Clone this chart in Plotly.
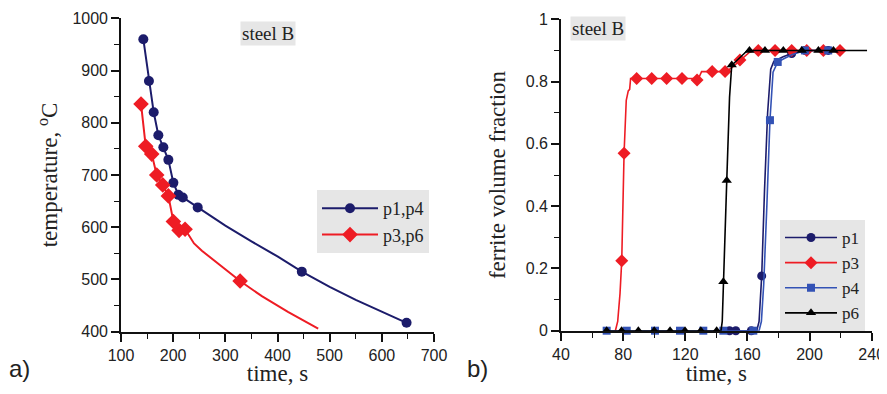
import plotly.graph_objects as go

# ---------------- panel a) temperature vs time ----------------
a_p14_t = [142.8, 153.6, 162.7, 171.6, 181.2, 190.8, 200.4, 210.0, 218.4, 247.0, 446.6, 647.4]
a_p14_T = [960, 880, 820, 776, 753, 729, 685, 662, 657, 638, 515, 417]
a_p14_curve_t = [142.8, 153.6, 162.7, 171.6, 181.2, 190.8, 200.4, 210.0, 218.4, 247.0, 300, 350, 400, 446.6, 500, 550, 600, 647.4]
a_p14_curve_T = [960, 880, 820, 776, 753, 729, 685, 662, 657, 638, 603, 573, 544, 515, 486, 461, 439, 417]

a_p36_t = [138.4, 147.4, 158.9, 168.5, 180.0, 190.8, 200.4, 211.3, 222.8, 328.3]
a_p36_T = [836, 755, 740, 700, 681, 660, 611, 594, 596, 497]
a_p36_curve_t = [138.4, 147.4, 158.9, 168.5, 180.0, 190.8, 200.4, 211.3, 222.8, 230, 240, 255, 280, 300, 328.3, 370, 420, 478]
a_p36_curve_T = [836, 755, 740, 700, 681, 660, 611, 594, 596, 584, 569, 555, 535, 520, 497, 468, 438, 406]

# ---------------- panel b) ferrite fraction vs time ----------------
b_p1_t = [148.5, 152.5, 162.5, 169.2, 188.5, 197.0, 212.0]
b_p1_f = [0, 0, 0, 0.176, 0.89, 0.90, 0.90]
b_p1_curve_t = [148.5, 166.0, 167.5, 169.2, 171.0, 173.0, 175.0, 177.0, 183.0, 188.5, 197.0, 213.0]
b_p1_curve_f = [0, 0, 0.03, 0.176, 0.45, 0.70, 0.84, 0.865, 0.88, 0.89, 0.90, 0.90]

b_p3_t = [79.1, 80.6, 88.7, 98.4, 108.0, 117.9, 127.6, 137.3, 145.6, 155.2, 167.0, 177.8, 188.5, 198.2, 208.9, 219.6]
b_p3_f = [0.225, 0.57, 0.81, 0.81, 0.81, 0.81, 0.805, 0.832, 0.832, 0.869, 0.90, 0.90, 0.90, 0.90, 0.90, 0.90]
b_p3_curve_t = [75.0, 76.5, 78.0, 79.1, 80.6, 82.0, 83.3, 84.2, 84.8, 88.7, 128.5, 130.5, 146.0, 150.0, 155.2, 161.0, 165.0, 219.6]
b_p3_curve_f = [0, 0.03, 0.12, 0.225, 0.57, 0.74, 0.77, 0.775, 0.81, 0.81, 0.81, 0.832, 0.832, 0.845, 0.869, 0.893, 0.90, 0.90]

b_p4_t = [69.4, 82.3, 100.5, 116.6, 131.6, 144.5, 163.8, 174.5, 179.5, 197.0, 212.0]
b_p4_f = [0, 0, 0, 0, 0, 0, 0, 0.676, 0.863, 0.90, 0.90]
b_p4_curve_t = [69.4, 167.5, 169.0, 170.5, 172.5, 174.5, 176.5, 179.5, 184.0, 189.0, 197.0, 216.0]
b_p4_curve_f = [0, 0, 0.03, 0.15, 0.40, 0.676, 0.83, 0.863, 0.875, 0.887, 0.90, 0.90]

b_p6_t = [69.4, 79.0, 89.8, 100.0, 110.2, 119.8, 130.0, 140.2, 144.5, 146.7, 149.9, 161.3, 171.3, 183.1, 195.0, 205.7, 215.4]
b_p6_f = [0, 0, 0, 0, 0, 0, 0, 0, 0.157, 0.482, 0.853, 0.90, 0.90, 0.90, 0.90, 0.90, 0.90]
b_p6_curve_t = [69.4, 143.0, 143.8, 144.5, 146.7, 148.5, 149.9, 152.0, 156.0, 160.0, 237.0]
b_p6_curve_f = [0, 0, 0.03, 0.157, 0.482, 0.75, 0.853, 0.862, 0.88, 0.90, 0.90]

NAVY = "#1c1c6b"
RED = "#ee1c24"
BLUE = "#3352b5"
BLACK = "#000000"

# the page body has an 8px margin; size the figure so the page never overflows
OFF = 8
W, H = 887 - OFF, 394 - 2 * OFF

def X(p):
    return (p - OFF) / W

def Y(p):
    return 1 - (p - OFF) / H

fig = go.Figure()

def add_series(t, v, ct, cv, name, color, symbol, size, xa, ya, legend, lw):
    fig.add_trace(go.Scatter(x=ct, y=cv, mode="lines", line=dict(color=color, width=lw),
                             xaxis=xa, yaxis=ya, showlegend=False, hoverinfo="skip",
                             cliponaxis=False))
    fig.add_trace(go.Scatter(x=t, y=v, mode="markers", name=name, showlegend=False,
                             marker=dict(color=color, symbol=symbol, size=size),
                             xaxis=xa, yaxis=ya, cliponaxis=False))
    fig.add_trace(go.Scatter(x=[None], y=[None], mode="lines+markers", name=name,
                             line=dict(color=color, width=lw),
                             marker=dict(color=color, symbol=symbol, size=size),
                             xaxis=xa, yaxis=ya, legend=legend))

add_series(a_p14_t, a_p14_T, a_p14_curve_t, a_p14_curve_T, "p1,p4", NAVY, "circle", 10, "x", "y", "legend", 2)
add_series(a_p36_t, a_p36_T, a_p36_curve_t, a_p36_curve_T, "p3,p6", RED, "diamond", 12, "x", "y", "legend", 2)

add_series(b_p1_t, b_p1_f, b_p1_curve_t, b_p1_curve_f, "p1", NAVY, "circle", 9, "x2", "y2", "legend2", 1.6)
add_series(b_p3_t, b_p3_f, b_p3_curve_t, b_p3_curve_f, "p3", RED, "diamond", 10, "x2", "y2", "legend2", 1.6)
add_series(b_p4_t, b_p4_f, b_p4_curve_t, b_p4_curve_f, "p4", BLUE, "square", 8, "x2", "y2", "legend2", 1.6)
add_series(b_p6_t, b_p6_f, b_p6_curve_t, b_p6_curve_f, "p6", BLACK, "triangle-up", 9, "x2", "y2", "legend2", 1.6)

SERIF = "Liberation Serif"
SANS = "Liberation Sans"
TICKFONT = dict(family=SANS, size=16, color="#222")
TITLEFONT = dict(family=SERIF, size=23, color="#222")
MINOR = dict(ticklen=5, tickwidth=1.2, tickcolor="#111", ticks="outside")

def axis_common(**kw):
    d = dict(showgrid=False, zeroline=False, showline=True, linecolor="#111", linewidth=1.6,
             ticks="outside", ticklen=8, tickwidth=1.5, tickcolor="#111",
             tickfont=TICKFONT, mirror=False, automargin=False)
    d.update(kw)
    return d

fig.update_layout(
    width=W, height=H,
    margin=dict(l=0, r=0, t=0, b=0, autoexpand=False),
    paper_bgcolor="white", plot_bgcolor="white",
    xaxis=axis_common(domain=[X(121), X(434)], range=[100, 700], dtick=100,
                      minor=dict(dtick=50, **MINOR),
                      title=dict(text="time, s", font=TITLEFONT, standoff=4), anchor="y"),
    yaxis=axis_common(domain=[Y(331.7), Y(18.3)], range=[400, 1000], dtick=100,
                      minor=dict(dtick=50, **MINOR),
                      title=dict(text="temperature, <sup>o</sup>C", font=TITLEFONT, standoff=8), anchor="x"),
    xaxis2=axis_common(domain=[X(561), X(871.7)], range=[40, 240], dtick=40,
                       minor=dict(dtick=20, **MINOR),
                       title=dict(text="time, s", font=TITLEFONT, standoff=4), anchor="y2"),
    yaxis2=axis_common(domain=[Y(330.7), Y(19.3)], range=[0, 1],
                       tickvals=[0, 0.2, 0.4, 0.6, 0.8, 1], ticktext=["0", "0.2", "0.4", "0.6", "0.8", "1"],
                       minor=dict(tickvals=[0.1, 0.3, 0.5, 0.7, 0.9], **MINOR),
                       title=dict(text="ferrite volume fraction", font=TITLEFONT, standoff=14), anchor="x2"),
    legend=dict(x=X(317), y=Y(190), xanchor="left", yanchor="top",
                bgcolor="#e6e6e6", borderwidth=0,
                font=dict(family=SERIF, size=18, color="#222"), itemwidth=56,
                tracegroupgap=0),
    legend2=dict(x=X(780), y=Y(220), xanchor="left", yanchor="top",
                 bgcolor="#e6e6e6", borderwidth=0,
                 font=dict(family=SERIF, size=17, color="#222"), itemwidth=52,
                 tracegroupgap=0),
    annotations=[
        dict(text="steel B", x=X(268), y=Y(33), xref="paper", yref="paper",
             xanchor="center", yanchor="middle",
             showarrow=False, bgcolor="#e6e6e6", font=dict(family=SERIF, size=19, color="#222")),
        dict(text="steel B", x=X(598), y=Y(28), xref="paper", yref="paper",
             xanchor="center", yanchor="middle",
             showarrow=False, bgcolor="#e6e6e6", font=dict(family=SERIF, size=19, color="#222")),
        dict(text="a)", x=X(19), y=Y(368), xref="paper", yref="paper",
             xanchor="center", yanchor="middle",
             showarrow=False, font=dict(family=SANS, size=24, color="#222")),
        dict(text="b)", x=X(477), y=Y(368), xref="paper", yref="paper",
             xanchor="center", yanchor="middle",
             showarrow=False, font=dict(family=SANS, size=24, color="#222")),
    ],
)

fig.write_html("out.html")
